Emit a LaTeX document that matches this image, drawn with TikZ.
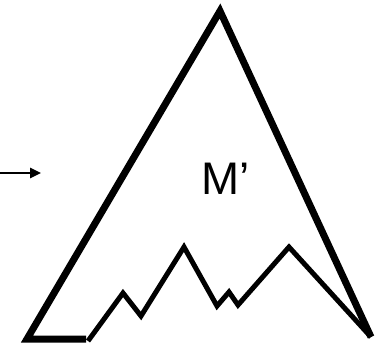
\documentclass[tikz,border=0pt]{standalone}
\usepackage{fontspec}
\setmainfont{Liberation Sans}
\usetikzlibrary{arrows.meta}

\begin{document}
\begin{tikzpicture}[
    x=0.02cm, y=-0.02cm,
    edge/.style={line width=0.14cm, line join=miter},
    ridge/.style={line width=0.1cm, line join=miter},
    arrow/.style={-{Triangle[length=0.22cm, width=0.2cm]}, line width=0.05cm},
    mlabel/.style={font=\fontsize{26}{30}\selectfont, inner sep=0pt},
]
\useasboundingbox (0,0) rectangle (382,343);

% Corners of the triangle
\coordinate (apex) at (220,11);
\coordinate (bl) at (27,339);
\coordinate (br) at (371,337);
\coordinate (base) at (86,339);

% Triangle
\draw[edge] (base) -- (bl) -- (apex) -- (br);

% Ridge
\draw[ridge] (88,341) -- (123,293) -- (141,316) -- (184,247) -- (217,306)
    -- (229,292) -- (238,305) -- (289,247) -- (br);

% Label
\node[mlabel] (m) at (226,179) {M’};

% Incoming arrow
\coordinate (in) at (0,173);
\coordinate (out) at (41,173);
\draw[arrow] (in) -- (out);

\end{tikzpicture}
\end{document}
